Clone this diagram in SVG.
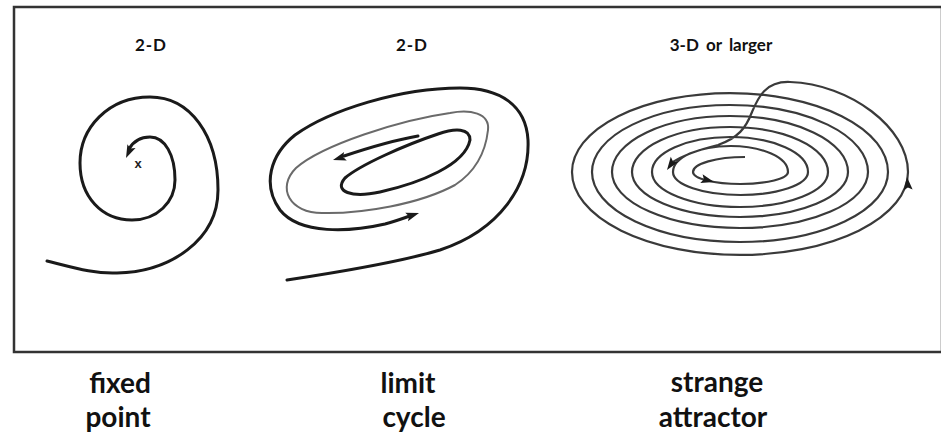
<svg xmlns="http://www.w3.org/2000/svg" xmlns:xlink="http://www.w3.org/1999/xlink" width="941" height="436" viewBox="0 0 941 436">
<style>
.frame{fill:#fff;stroke:#333;stroke-width:2.5}
.thick{fill:none;stroke:#1a1a1a;stroke-width:3;stroke-linecap:round}
.grey{fill:none;stroke:#6a6a6a;stroke-width:2}
.sa{fill:none;stroke:#3a3a3a;stroke-width:2.2}
.hdr{font-family:Lato,"Open Sans",sans-serif;font-weight:700;font-size:17px;fill:#111;text-anchor:middle}
.lbl{font-family:Lato,"Open Sans",sans-serif;font-weight:700;font-size:28px;fill:#111;text-anchor:middle}
.ah{fill:#1a1a1a}
</style>
<defs>
<path id="ah" d="M0,0 L-13,-4.5 L-10.5,0 L-13,4.5 Z"/>
</defs>
<rect class="frame" x="14" y="7" width="928" height="345"/>
<g id="fixed-point">
<text class="hdr" x="151" y="51" style="letter-spacing:1px">2-D</text>
<path class="thick" d="M47,261 C75,268 95,274 117,273 C170,272 218,240 218,190 C218,135 190,97 150,97 C108,97 80,128 80,163 C80,197 102,220 132,220 C157,220 175,202 175,180 C175,155 165,137 150,137 C140,137 133,142 129,149"/>
<use class="ah" xlink:href="#ah" href="#ah" transform="translate(126,158) rotate(115)"/>
<text x="138" y="168" style="font-family:'Liberation Sans',sans-serif;font-weight:700;font-size:13px;fill:#222;text-anchor:middle">x</text>
<text class="lbl" x="120" y="393">fixed</text>
<text class="lbl" x="118" y="427">point</text>
</g>
<g id="limit-cycle">
<text class="hdr" x="412" y="51" style="letter-spacing:1px">2-D</text>
<path class="thick" d="M287,280 C340,272 400,262 440,250 C500,230 530,185 528,140 C526,105 500,88 460,88 C400,88 330,110 295,135 C270,155 262,185 280,210 C300,235 350,232 385,224 C396,221 404,218 410,216"/>
<use class="ah" xlink:href="#ah" href="#ah" transform="translate(419,213) rotate(-18)"/>
<path class="grey" d="M488,130 C490,113 470,109 450,113 C400,120 322,145 296,168 C276,188 290,213 322,213 C362,214 420,204 455,185 C478,170 486,148 488,130 Z"/>
<path class="thick" d="M470,140 C470,128 455,128 438,134 C405,145 360,165 345,178 C333,192 352,198 380,192 C420,183 465,165 470,140 Z"/>
<path class="thick" d="M418,136 C395,140 368,148 344,156"/>
<use class="ah" xlink:href="#ah" href="#ah" transform="translate(333,160) rotate(163)"/>
<text class="lbl" x="408" y="393">limit</text>
<text class="lbl" x="414" y="427">cycle</text>
</g>
<g id="strange-attractor">
<text class="hdr" x="721" y="51" style="word-spacing:3px">3-D or larger</text>
<path class="sa" d="M745,157 A52,15 0 0 0 693,172 A47.5,12 0 0 0 788,172 A57.5,26 0 0 0 673,172 A67.5,23 0 0 0 808,172 A78,35 0 0 0 652,172 A88,35 0 0 0 828,172 A98,45 0 0 0 632,172 A108,45 0 0 0 848,172 A118,56 0 0 0 612,172 A128,56 0 0 0 868,172 A138,67 0 0 0 592,172 A148,70 0 0 0 888,172 A158,79 0 0 0 572,172 A168,83 0 0 0 908,172 C908,128 850,84 790,82 C765,81 758,98 752,112 C746,128 738,138 718,145 C698,150 682,156 673,162"/>
<use class="ah" xlink:href="#ah" href="#ah" transform="translate(714,182) rotate(15)"/>
<use class="ah" xlink:href="#ah" href="#ah" transform="translate(907,177) rotate(-95)"/>
<use class="ah" xlink:href="#ah" href="#ah" transform="translate(667,170) rotate(125)"/>
<text class="lbl" x="717" y="392">strange</text>
<text class="lbl" x="713" y="427">attractor</text>
</g>
</svg>
